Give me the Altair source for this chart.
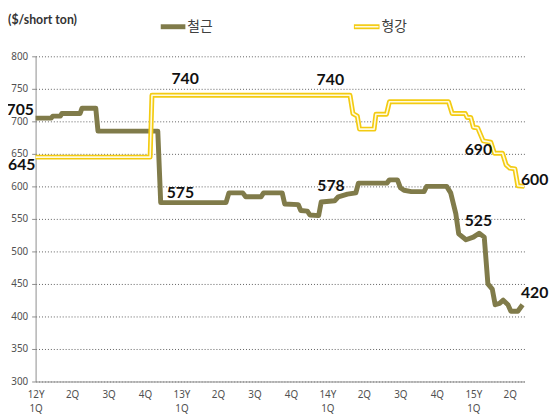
import json
import altair as alt
import pandas as pd

# ---- data (quarter index: 0 = 2012 1Q) ----
rebar_q = [0, 0.43, 0.47, 0.68, 0.72, 1.22, 1.27, 1.65, 1.71, 3.35, 3.43, 5.22, 5.30, 5.68, 5.76,
           6.18, 6.25, 6.76, 6.83, 7.2, 7.27, 7.45, 7.52, 7.76, 7.83, 8.2, 8.3, 8.55, 8.78, 8.85,
           9.63, 9.7, 9.92, 10.0, 10.1, 10.3, 10.65, 10.72, 11.27, 11.38, 11.52, 11.6, 11.8, 12.0,
           12.16, 12.3, 12.4, 12.52, 12.6, 12.72, 12.82, 12.95, 13.03, 13.22, 13.35]
rebar_v = [705, 705, 708, 708, 712, 712, 720, 720, 685, 685, 575, 575, 590, 590, 584,
           584, 590, 590, 573, 572, 563, 562, 556, 555, 576, 578, 584, 588, 590, 605,
           605, 610, 610, 598, 594, 592, 592, 600, 600, 590, 558, 527, 518, 522,
           528, 522, 450, 442, 418, 420, 425, 418, 408, 408, 418]

section_q = [0, 3.14, 3.19, 8.62, 8.70, 8.82, 8.88, 9.28, 9.33, 9.62, 9.70, 11.32, 11.42, 11.78,
             11.83, 11.93, 12.0, 12.12, 12.27, 12.48, 12.58, 12.8, 12.9, 13.0, 13.14, 13.22, 13.4]
section_v = [645, 645, 740, 740, 712, 708, 688, 688, 711, 711, 730, 730, 712, 712,
             706, 706, 691, 690, 670, 668, 651, 651, 633, 628, 627, 601, 600]

tick_labels = ["12Y|1Q", "2Q", "3Q", "4Q", "13Y|1Q", "2Q", "3Q", "4Q",
               "14Y|1Q", "2Q", "3Q", "4Q", "15Y|1Q", "2Q"]
y_ticks = [300, 350, 400, 450, 500, 550, 600, 650, 700, 750, 800]

label_q = [-0.42, -0.38, 4.1, 8.08, 3.97, 8.1, 12.14, 12.14, 13.68, 13.68]
label_v = [718, 632, 765, 764, 589, 600, 546, 656, 610, 436]
label_text = ["705", "645", "740", "740", "575", "578", "525", "690", "600", "420"]

series_names = ["철근", "형강"]
unit_title = "($/short ton)"

OLIVE = "#807b4a"
GOLD = "#f3cb12"
PALE = "#fffbe0"

W, H = 496, 330
xs = alt.Scale(domain=[0, 13.4], nice=False, zero=False)
ys = alt.Scale(domain=[300, 800], nice=False, zero=False)

rebar = pd.DataFrame({"q": rebar_q, "v": rebar_v})
section = pd.DataFrame({"q": section_q, "v": section_v})
labels = pd.DataFrame({"q": label_q, "v": label_v, "t": label_text})
dummy = pd.DataFrame({"a": [0]})

expr = "split(" + json.dumps(tick_labels) + "[datum.value], '|')"

x_axis = alt.Axis(values=list(range(14)), labelExpr=expr, grid=False, ticks=False,
                  domainColor="#8c8c8c", labelFont="Noto Sans", labelFontSize=10,
                  labelColor="#505050", labelPadding=8, labelLineHeight=14,
                  labelFlush=False, labelOverlap=False, title=None)
y_axis = alt.Axis(values=y_ticks, grid=True, gridDash=[1, 2], gridColor="#606060",
                  gridWidth=1, tickSize=4, tickColor="#8c8c8c", domainColor="#8c8c8c",
                  labelFont="Noto Sans", labelFontSize=10, labelColor="#505050",
                  labelPadding=4, title=None)

X = alt.X("q:Q", scale=xs, axis=x_axis)
Y = alt.Y("v:Q", scale=ys, axis=y_axis)

base_rebar = alt.Chart(rebar).mark_line(color=OLIVE, strokeWidth=5, strokeJoin="round").encode(x=X, y=Y)
sec_outer = alt.Chart(section).mark_line(color=GOLD, strokeWidth=5, strokeJoin="round").encode(x=X, y=Y)
sec_inner = alt.Chart(section).mark_line(color=PALE, strokeWidth=1.6, strokeJoin="round").encode(x=X, y=Y)

txt = alt.Chart(labels).mark_text(font="Lato", fontWeight="bold", fontSize=16,
                                  color="#111111", align="center", baseline="middle").encode(
    x=X, y=Y, text="t:N")

# legend & unit title
leg1 = alt.Chart(dummy).mark_rule(color=OLIVE, strokeWidth=5).encode(
    x=alt.value(127), x2=alt.value(152), y=alt.value(-30))
leg1t = alt.Chart(dummy).mark_text(font="Noto Sans CJK KR", fontSize=14, color="#404040",
                                   align="left", baseline="middle").encode(
    x=alt.value(154), y=alt.value(-30), text=alt.value(series_names[0]))
leg2a = alt.Chart(dummy).mark_rule(color=GOLD, strokeWidth=5).encode(
    x=alt.value(323), x2=alt.value(349), y=alt.value(-30))
leg2b = alt.Chart(dummy).mark_rule(color=PALE, strokeWidth=1.6).encode(
    x=alt.value(324), x2=alt.value(348), y=alt.value(-30))
leg2t = alt.Chart(dummy).mark_text(font="Noto Sans CJK KR", fontSize=14, color="#404040",
                                   align="left", baseline="middle").encode(
    x=alt.value(351), y=alt.value(-30), text=alt.value(series_names[1]))
unit = alt.Chart(dummy).mark_text(font="Lato", fontWeight="bold", fontSize=12.5, color="#333333",
                                  align="left", baseline="middle").encode(
    x=alt.value(-28), y=alt.value(-37), text=alt.value(unit_title))

chart = alt.layer(base_rebar, sec_outer, sec_inner, txt, leg1, leg1t, leg2a, leg2b, leg2t, unit).properties(
    width=W, height=H,
    autosize=alt.AutoSizeParams(type="none"),
    padding={"left": 28, "top": 46, "right": 26, "bottom": 33},
    background="white",
).configure_view(stroke=None)

chart.save("out.html", embed_options={"renderer": "svg", "actions": False})
